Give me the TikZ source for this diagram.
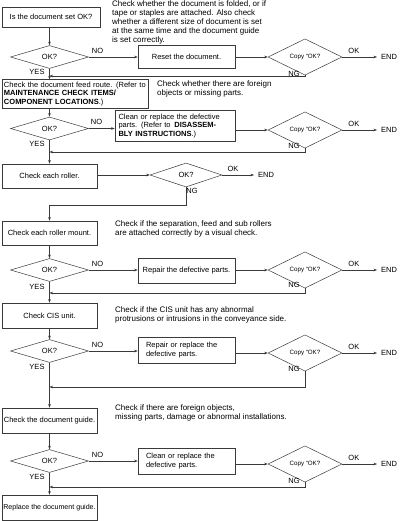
\documentclass[tikz,border=0pt]{standalone}
\usepackage{fontspec}
\setmainfont{Liberation Sans}
\usetikzlibrary{positioning,arrows.meta,shapes.geometric}
\definecolor{ink}{HTML}{3A3A3A}

\begin{document}
\begin{tikzpicture}[x=1pt,y=-1pt,
    font=\fontsize{7.5}{8.8}\selectfont,
    stepbox/.style={rectangle, draw=ink, line width=0.6pt, inner sep=2pt},
    chk/.style={diamond, draw=ink, line width=0.5pt, inner sep=0pt,
      minimum width=78pt, minimum height=23pt},
    cpy/.style={chk, minimum width=74pt, minimum height=25pt,
      font=\fontsize{6.2}{7}\selectfont},
    note/.style={anchor=north west, align=left, inner sep=0pt,
      font=\fontsize{8}{9}\selectfont},
    lbl/.style={inner sep=0pt},
    link/.style={draw=ink, line width=0.5pt, -{Stealth[length=3.5pt,width=2.6pt]}},
  ]
  \useasboundingbox (0,0) rectangle (400,521);

  % Step 1: document set
  \node[stepbox, minimum width=98pt, minimum height=20pt] (s1) at (51,17) {Is the document set OK?};
  \node[note] (n1) at (112,0.5) {Check whether the document is folded, or if\\
    tape or staples are attached. Also check\\
    whether a different size of document is set\\
    at the same time and the document guide\\
    is set correctly.};
  \node[chk] (d1) at (49.5,57) {OK?};
  \node[stepbox, minimum width=97pt, minimum height=23pt] (f1) at (186.5,56.5) {Reset the document.};
  \node[cpy] (c1) at (305,57) {Copy “OK?};
  \node[lbl, anchor=west] (e1) at (381,57) {END};
  \coordinate (m1) at (49.5,76);
  \draw[link] (d1 |- s1.south) -- (d1.north);
  \draw[link] (d1.east) -- node[lbl, above=3.5pt, pos=0.18] {NO} (d1 -| f1.west);
  \draw[link] (c1 -| f1.east) -- (c1.west);
  \draw[link, shorten >=4pt] (c1.east) -- node[lbl, above=3.5pt, pos=0.3] {OK} (e1.west);
  \draw[link] (c1.south) |- (m1);
  \node[lbl] at (294,74) {NG};
  \node[lbl] at (37,72) {YES};

  % Step 2: feed route
  \node[stepbox, text width=142pt, align=left, inner sep=2pt, minimum height=26pt] (s2) at (75,94)
    {Check the document feed route. (Refer to\\
    \textbf{MAINTENANCE CHECK ITEMS/}\\
    \textbf{COMPONENT LOCATIONS}.)};
  \draw[link] (d1.south) -- (d1.south |- s2.north);
  \node[note] (n2) at (157,81) {Check whether there are foreign\\objects or missing parts.};
  \node[chk] (d2) at (49.5,128.5) {OK?};
  \node[stepbox, text width=113pt, align=left, inner sep=3.5pt, minimum height=28pt] (f2) at (175,126)
    {Clean or replace the defective\\
    parts. (Refer to \,\textbf{DISASSEM-}\\
    \textbf{BLY INSTRUCTIONS}.)};
  \node[cpy] (c2) at (305,130) {Copy “OK?};
  \node[lbl, anchor=west] (e2) at (381,130) {END};
  \coordinate (m2) at (49.5,152);
  \draw[link] (d2 |- s2.south) -- (d2.north);
  \draw[link] (d2.east) -- node[lbl, above=3.5pt, pos=0.3] {NO} (d2 -| f2.west);
  \draw[link] (c2 -| f2.east) -- (c2.west);
  \draw[link, shorten >=4pt] (c2.east) -- node[lbl, above=3.5pt, pos=0.3] {OK} (e2.west);
  \draw[link] (c2.south) |- (m2);
  \node[lbl] at (294,146) {NG};
  \node[lbl] at (37,143.5) {YES};

  % Step 3: rollers
  \node[stepbox, minimum width=95pt, minimum height=24pt] (s3) at (49.5,176) {Check each roller.};
  \draw[link] (d2.south) -- (s3.north);
  \node[chk, minimum width=72pt, minimum height=24pt] (d3) at (186,175) {OK?};
  \node[lbl, anchor=west] (e3) at (258,175) {END};
  \coordinate (k3) at (49.5,205);
  \draw[link] (s3.east |- d3) -- (d3.west);
  \draw[link, shorten >=4pt] (d3.east) -- node[lbl, above=3.5pt, pos=0.3] {OK} (e3.west);
  \node[stepbox, minimum width=95pt, minimum height=24pt] (s4) at (49.5,233) {Check each roller mount.};
  \draw[link] (d3.south) |- (k3) -- (s4.north);
  \node[lbl] at (192,191) {NG};
  \node[note] (n4) at (115,220.5) {Check if the separation, feed and sub rollers\\are attached correctly by a visual check.};

  % Step 4: roller mount
  \node[chk] (d4) at (49.5,270) {OK?};
  \node[stepbox, minimum width=97pt, minimum height=25pt] (f4) at (186.5,271) {Repair the defective parts.};
  \node[cpy] (c4) at (305,270) {Copy “OK?};
  \node[lbl, anchor=west] (e4) at (381,270) {END};
  \coordinate (m4) at (49.5,293);
  \draw[link] (s4.south) -- (d4.north);
  \draw[link] (d4.east) -- node[lbl, above=3.5pt, pos=0.18] {NO} (d4 -| f4.west);
  \draw[link] (c4 -| f4.east) -- (c4.west);
  \draw[link, shorten >=4pt] (c4.east) -- node[lbl, above=3.5pt, pos=0.3] {OK} (e4.west);
  \draw[link] (c4.south) |- (m4);
  \node[lbl] at (294,284.5) {NG};
  \node[lbl] at (37,287) {YES};

  % Step 5: CIS unit
  \node[stepbox, minimum width=95pt, minimum height=25pt] (s5) at (49.5,315.5) {Check CIS unit.};
  \draw[link] (d4.south) -- (s5.north);
  \node[note] (n5) at (115,306.5) {Check if the CIS unit has any abnormal\\protrusions or intrusions in the conveyance side.};
  \node[chk] (d5) at (49.5,351) {OK?};
  \node[stepbox, text width=87pt, align=left, inner sep=5pt, minimum height=26pt] (f5) at (186.5,350)
    {\hspace*{3pt}Repair or replace the\\\hspace*{3pt}defective parts.};
  \node[cpy] (c5) at (305,353) {Copy “OK?};
  \node[lbl, anchor=west] (e5) at (381,353) {END};
  \coordinate (m5) at (49.5,387);
  \draw[link] (s5.south) -- (d5.north);
  \draw[link] (d5.east) -- node[lbl, above=3.5pt, pos=0.18] {NO} (d5 -| f5.west);
  \draw[link] (c5 -| f5.east) -- (c5.west);
  \draw[link, shorten >=4pt] (c5.east) -- node[lbl, above=3.5pt, pos=0.3] {OK} (e5.west);
  \draw[link] (c5.south) |- (m5);
  \node[lbl] at (294,368.5) {NG};
  \node[lbl] at (37,367) {YES};

  % Step 6: document guide
  \node[stepbox, minimum width=95pt, minimum height=25pt] (s6) at (49.5,420.5) {Check the document guide.};
  \draw[link] (d5.south) -- (s6.north);
  \node[note] (n6) at (115,404.5) {Check if there are foreign objects,\\missing parts, damage or abnormal installations.};
  \node[chk] (d6) at (49.5,461) {OK?};
  \node[stepbox, text width=87pt, align=left, inner sep=5pt, minimum height=24pt] (f6) at (186.5,461)
    {\hspace*{3pt}Clean or replace the\\\hspace*{3pt}defective parts.};
  \node[cpy] (c6) at (305,464) {Copy “OK?};
  \node[lbl, anchor=west] (e6) at (381,464) {END};
  \coordinate (m6) at (49.5,487);
  \draw[link] (s6.south) -- (d6.north);
  \draw[link] (d6.east) -- node[lbl, above=3.5pt, pos=0.18] {NO} (d6 -| f6.west);
  \draw[link] (c6 -| f6.east) -- (c6.west);
  \draw[link, shorten >=4pt] (c6.east) -- node[lbl, above=3.5pt, pos=0.3] {OK} (e6.west);
  \draw[link] (c6.south) |- (m6);
  \node[lbl] at (294,480.5) {NG};
  \node[lbl] at (37,477) {YES};

  \node[stepbox, minimum width=95pt, minimum height=25pt, inner sep=1pt,
    font=\fontsize{7.1}{8.8}\selectfont] (s7) at (49.5,507.5) {Replace the document guide.};
  \draw[link] (d6.south) -- (s7.north);
\end{tikzpicture}
\end{document}
